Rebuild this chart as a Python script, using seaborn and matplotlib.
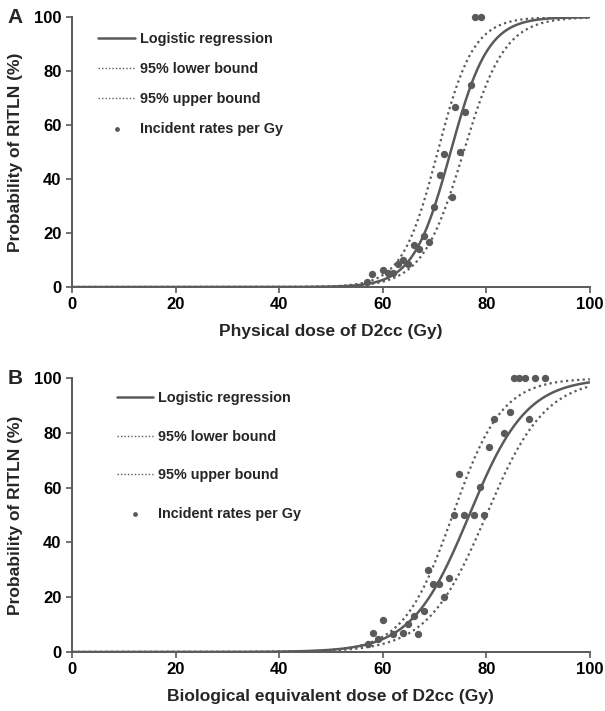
import numpy as np
import pandas as pd
import seaborn as sns
from matplotlib import pyplot as plt

# incident rates per Gy (physical dose)
phys_dose = [57.0, 58.0, 60.0, 61.1, 61.9, 63.0, 64.0, 64.9, 66.0, 67.0, 67.9, 69.0,
             69.9, 71.0, 71.9, 73.3, 73.9, 74.9, 75.9, 77.0, 77.9, 78.9]
phys_rate = [1.9, 5.0, 6.2, 5.1, 5.1, 8.4, 9.9, 8.6, 15.6, 14.1, 18.9, 16.6,
             29.5, 41.6, 49.1, 33.3, 66.6, 49.9, 64.9, 74.8, 100.0, 100.0]

# incident rates per Gy (biological equivalent dose)
bio_dose = [57.1, 58.1, 59.0, 60.0, 62.0, 64.0, 64.9, 66.0, 66.9, 67.9, 68.8, 69.7,
            70.8, 71.8, 72.8, 73.8, 74.7, 75.7, 77.6, 78.7, 79.6, 80.6, 81.5, 83.5,
            84.5, 85.4, 86.4, 87.4, 88.3, 89.4, 91.3]
bio_rate = [2.9, 6.8, 4.9, 11.6, 6.6, 7.1, 10.2, 13.1, 6.6, 14.8, 29.9, 24.8,
            24.8, 20.0, 26.9, 49.9, 65.0, 49.9, 49.9, 60.1, 49.9, 74.9, 85.0, 79.9,
            87.6, 100.0, 100.0, 100.0, 85.0, 100.0, 100.0]

# logistic model parameters (dose at 50 %, slope per Gy) estimated from the curves
phys_fit = {'Logistic regression': (73.1, 0.276),
            '95% lower bound': (70.6, 0.29),
            '95% upper bound': (75.6, 0.25)}
bio_fit = {'Logistic regression': (76.7, 0.18),
           '95% lower bound': (73.5, 0.21),
           '95% upper bound': (80.0, 0.175)}

grey = '#5a5a5a'
sns.set_style('ticks')
plt.rcParams['font.family'] = ['Liberation Sans', 'DejaVu Sans']
plt.rcParams['font.weight'] = 'bold'


def curves(fit):
    x = np.linspace(0, 100, 401)
    rows = []
    for name, (x50, k) in fit.items():
        p = 100 / (1 + np.exp(-k * (x - x50)))
        rows.append(pd.DataFrame({'dose': x, 'prob': p, 'curve': name}))
    return pd.concat(rows)


def panel(ax, fit, dose, rate, xlabel, letter, spacing, lx, ly):
    df = curves(fit)
    sns.lineplot(data=df, x='dose', y='prob', style='curve',
                 dashes={'Logistic regression': '', '95% lower bound': (1, 1.5),
                         '95% upper bound': (1, 1.5)},
                 color=grey, linewidth=1.8, ax=ax)
    # the dotted lines are a bit thinner
    for ln in ax.lines[1:3]:
        ln.set_linewidth(1.6)
    pts = pd.DataFrame({'dose': dose, 'rate': rate})
    sns.scatterplot(data=pts, x='dose', y='rate', color=grey, s=28, linewidth=0,
                    label='Incident rates per Gy', ax=ax, clip_on=False, zorder=5)
    ax.set_xlim(0, 100)
    ax.set_ylim(0, 100)
    ax.set_xticks(range(0, 101, 20))
    ax.set_yticks(range(0, 101, 20))
    ax.tick_params(labelsize=12, colors='black', color=grey, width=1.2, length=4)
    for lab in ax.get_xticklabels() + ax.get_yticklabels():
        lab.set_fontweight('bold')
    ax.set_xlabel(xlabel, fontsize=12.5, fontweight='bold', labelpad=8)
    ax.set_ylabel('Probability of RITLN (%)', fontsize=12.5, fontweight='bold', labelpad=8)
    for s in ['left', 'bottom']:
        ax.spines[s].set_color(grey)
        ax.spines[s].set_linewidth(1.4)
    sns.despine(ax=ax)
    h, l = ax.get_legend_handles_labels()
    leg = ax.legend(h, l, loc='upper left', bbox_to_anchor=(lx, ly), frameon=False,
                    labelspacing=spacing, handlelength=2.55, handletextpad=0.3,
                    prop={'weight': 'bold', 'size': 10.4})
    for i, ln in enumerate(leg.get_lines()):
        ln.set_linewidth(1.8 if i == 0 else 1.0)
    leg.legend_handles[-1].set_sizes([12])
    ax.text(-0.125, 1.0, letter, transform=ax.transAxes, fontsize=15,
            fontweight='bold', va='center', ha='left')


fig = plt.figure(figsize=(6.05, 7.11), dpi=100)
ax1 = fig.add_axes([0.119, 0.5963, 0.856, 0.3797])
ax2 = fig.add_axes([0.119, 0.083, 0.856, 0.385])

panel(ax1, phys_fit, phys_dose, phys_rate, 'Physical dose of D2cc (Gy)', 'A', 1.11, 0.026, 0.993)
panel(ax2, bio_fit, bio_dose, bio_rate, 'Biological equivalent dose of D2cc (Gy)', 'B', 1.7, 0.061, 1.0)

fig.savefig('out.png', dpi=100)
